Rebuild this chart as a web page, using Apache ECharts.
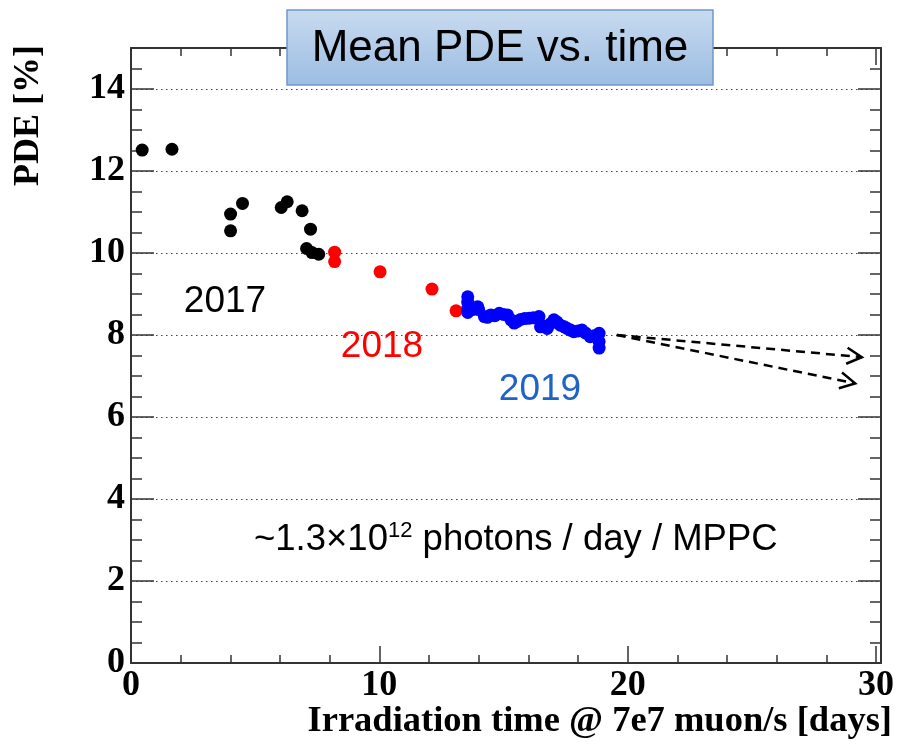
<!DOCTYPE html>
<html>
<head>
<meta charset="utf-8">
<script src="https://cdn.jsdelivr.net/npm/echarts@6/dist/echarts.min.js"></script>
<style>
html,body{margin:0;padding:0;background:#fff;}
#chart{width:897px;height:744px;}
</style>
</head>
<body>
<div id="chart"></div>
<script>
// ---- data ----
const x2017 = [0.45, 1.65, 4.01, 4.01, 4.49, 6.05, 6.29, 6.89, 7.23, 7.07, 7.29, 7.56];
const y2017 = [12.51, 12.53, 10.95, 10.54, 11.21, 11.11, 11.25, 11.03, 10.58, 10.11, 10.01, 9.97];
const x2018 = [8.2, 8.2, 10.03, 12.12, 13.09];
const y2018 = [10.02, 9.79, 9.54, 9.12, 8.59];
const x2019 = [13.56, 13.56, 13.56, 13.56, 13.75, 13.96, 14.0, 14.23, 14.35, 14.49, 14.65, 14.83, 15.0, 15.16, 15.3, 15.43, 15.55, 15.69, 15.85, 16.03, 16.2, 16.43, 16.49, 16.6, 16.76, 16.9, 17.03, 17.15, 17.29, 17.45, 17.56, 17.7, 17.83, 18.0, 18.16, 18.3, 18.49, 18.65, 18.85, 18.85, 18.85];
const y2019 = [8.93, 8.8, 8.65, 8.55, 8.62, 8.69, 8.62, 8.45, 8.43, 8.49, 8.47, 8.53, 8.5, 8.49, 8.37, 8.29, 8.33, 8.38, 8.4, 8.41, 8.42, 8.45, 8.2, 8.22, 8.16, 8.28, 8.37, 8.32, 8.24, 8.2, 8.16, 8.12, 8.08, 8.1, 8.12, 8.05, 7.96, 7.98, 8.04, 7.84, 7.68];
const arrowStart = [19.56, 8.0];
const arrowEnds = [[29.43, 7.46], [29.16, 6.82]];
const xTicks = [0, 10, 20, 30];
const yTicks = [0, 2, 4, 6, 8, 10, 12, 14];
const xRange = [0, 30.2];
const yRange = [0, 15];

const zip = (xs, ys) => xs.map((x, i) => [x, ys[i]]);
const arrowData = arrowEnds.map(e => [arrowStart[0], arrowStart[1], e[0], e[1]]);

const SERIF = '"Liberation Serif", "Times New Roman", serif';
const SANS = '"Liberation Sans", Arial, sans-serif';
const AX = '#333';

function majorAxis(pos, isX, showLabel) {
  return {
    type: 'value', position: pos,
    min: isX ? xRange[0] : yRange[0], max: isX ? xRange[1] : yRange[1],
    interval: isX ? 10 : 2,
    axisLine: { show: true, onZero: false, lineStyle: { color: AX, width: 2 } },
    axisTick: { show: true, inside: true, length: isX ? 17 : 23, lineStyle: { color: AX, width: 1.5 } },
    minorTick: { show: false },
    axisLabel: {
      show: showLabel, fontFamily: SERIF, fontWeight: 'bold', fontSize: 36, color: '#000',
      margin: isX ? 5 : 6,
      formatter: v => ((isX ? xTicks : yTicks).indexOf(v) >= 0 ? String(v) : '')
    },
    splitLine: {
      show: !isX && showLabel,
      lineStyle: { color: '#444', width: 1.2, type: [1.5, 3.5] }
    }
  };
}
function minorAxis(pos, isX) {
  return {
    type: 'value', position: pos,
    min: isX ? xRange[0] : yRange[0], max: isX ? xRange[1] : yRange[1],
    interval: isX ? 2 : 0.5,
    axisLine: { show: false, onZero: false },
    axisTick: { show: true, inside: true, length: isX ? 8 : 11, lineStyle: { color: AX, width: 1.5 } },
    axisLabel: { show: false },
    splitLine: { show: false }
  };
}

const chart = echarts.init(document.getElementById('chart'), null, { renderer: 'canvas' });

function arrowRender(params, api) {
  const p0 = api.coord([api.value(0), api.value(1)]);
  const p1 = api.coord([api.value(2), api.value(3)]);
  const dx = p1[0] - p0[0], dy = p1[1] - p0[1];
  const L = Math.sqrt(dx * dx + dy * dy);
  const ux = dx / L, uy = dy / L;
  const nx = -uy, ny = ux;
  const hl = 15, hw = 8;
  return {
    type: 'group',
    children: [
      { type: 'line', shape: { x1: p0[0], y1: p0[1], x2: p1[0], y2: p1[1] },
        style: { stroke: '#000', lineWidth: 2.5, lineDash: [9, 6], fill: null } },
      { type: 'polyline', shape: { points: [
          [p1[0] - hl * ux + hw * nx, p1[1] - hl * uy + hw * ny],
          [p1[0], p1[1]],
          [p1[0] - hl * ux - hw * nx, p1[1] - hl * uy - hw * ny]] },
        style: { stroke: '#000', lineWidth: 2.5, fill: null } }
    ]
  };
}

const dot = color => ({ color: color, opacity: 1 });

chart.setOption({
  animation: false,
  backgroundColor: '#fff',
  grid: { left: 131, right: 9, top: 48, bottom: 81, containLabel: false },
  xAxis: [majorAxis('bottom', true, true), minorAxis('bottom', true), majorAxis('top', true, false), minorAxis('top', true)],
  yAxis: [majorAxis('left', false, true), minorAxis('left', false), majorAxis('right', false, false), minorAxis('right', false)],
  series: [
    { type: 'custom', renderItem: arrowRender, data: arrowData,
      encode: { x: [0, 2], y: [1, 3] }, z: 3, silent: true },
    { type: 'scatter', name: '2017', data: zip(x2017, y2017), symbol: 'circle', symbolSize: 13,
      itemStyle: dot('#000'), z: 4 },
    { type: 'scatter', name: '2018', data: zip(x2018, y2018), symbol: 'circle', symbolSize: 13,
      itemStyle: dot('#ff0000'), z: 5 },
    { type: 'scatter', name: '2019', data: zip(x2019, y2019), symbol: 'circle', symbolSize: 13,
      itemStyle: dot('#0000ff'), z: 6 }
  ],
  graphic: [
    { type: 'rect', z: 100, shape: { x: 287, y: 10, width: 426, height: 75 },
      style: { fill: new echarts.graphic.LinearGradient(0, 0, 0, 1, [
        { offset: 0, color: '#c9dbf0' }, { offset: 1, color: '#9bbce2' }]),
        stroke: '#6f96cb', lineWidth: 1.5 } },
    { type: 'text', z: 101, x: 500, y: 49,
      style: { text: 'Mean PDE vs. time', font: '44px ' + SANS, fill: '#000', align: 'center', verticalAlign: 'middle' } },
    { type: 'text', z: 50, x: 225, y: 302,
      style: { text: '2017', font: '37px ' + SANS, fill: '#000', align: 'center', verticalAlign: 'middle' } },
    { type: 'text', z: 50, x: 382, y: 347,
      style: { text: '2018', font: '37px ' + SANS, fill: '#ff0000', align: 'center', verticalAlign: 'middle' } },
    { type: 'text', z: 50, x: 540, y: 390,
      style: { text: '2019', font: '37px ' + SANS, fill: '#1f62c8', align: 'center', verticalAlign: 'middle' } },
    { type: 'text', z: 50, x: 254, y: 540,
      style: { text: '{a|~1.3×10}{s|12}{a| photons / day / MPPC}', align: 'left', verticalAlign: 'middle',
        rich: {
          a: { fontFamily: SANS, fontSize: 36.5, lineHeight: 40, color: '#000' },
          s: { fontFamily: SANS, fontSize: 22, lineHeight: 26, verticalAlign: 'top', color: '#000' }
        } } },
    { type: 'text', z: 50, x: 892, y: 722,
      style: { text: 'Irradiation time @ 7e7 muon/s [days]', font: 'bold 36.5px ' + SERIF, fill: '#000',
        align: 'right', verticalAlign: 'middle' } },
    { type: 'text', z: 50, x: 29, y: 45, rotation: Math.PI / 2,
      style: { text: 'PDE [%]', font: 'bold 36px ' + SERIF, fill: '#000',
        align: 'right', verticalAlign: 'middle' } }
  ]
});
</script>
</body>
</html>
